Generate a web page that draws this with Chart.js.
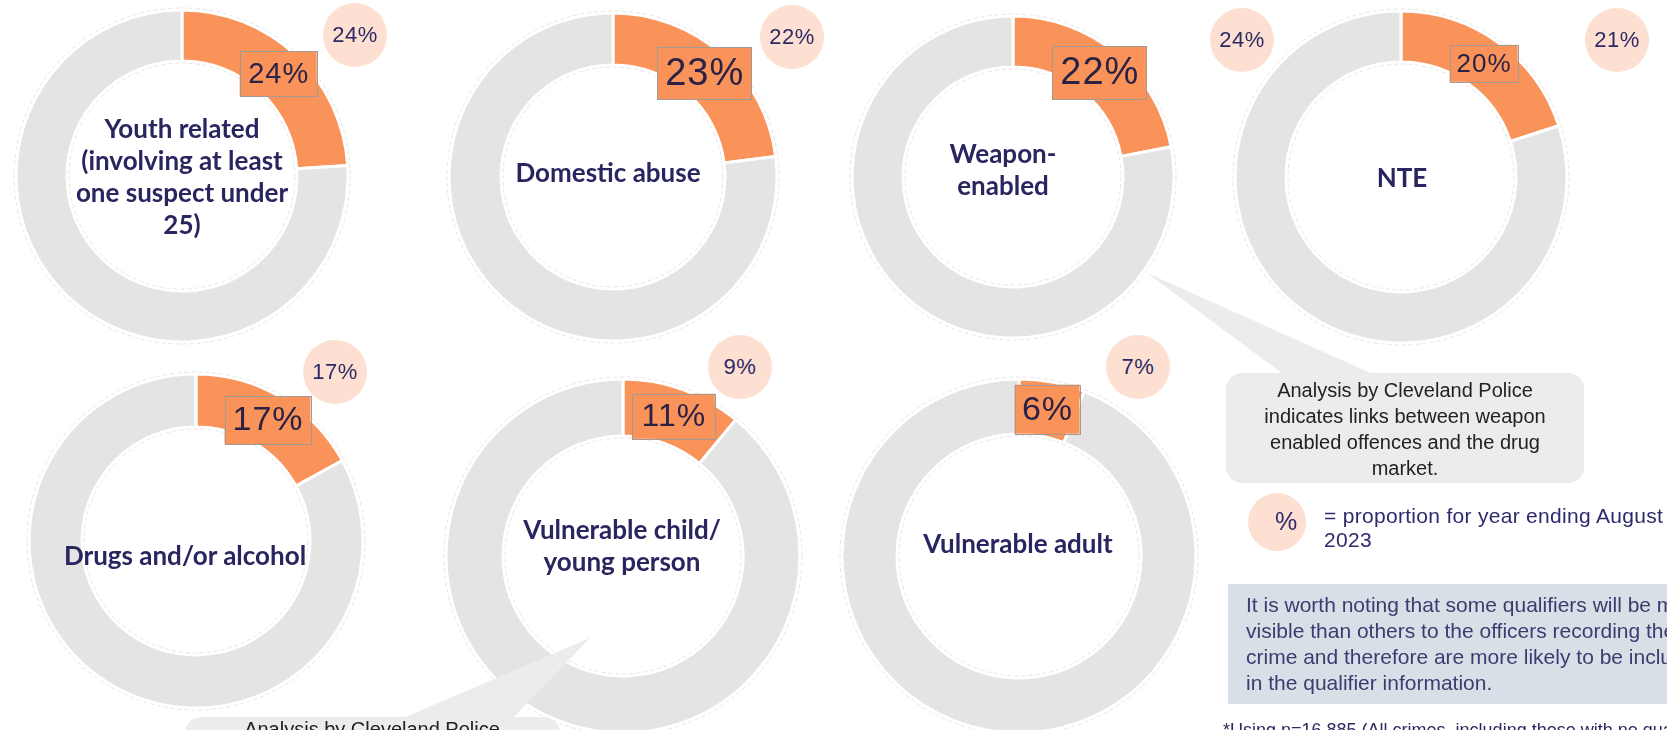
<!DOCTYPE html>
<html>
<head>
<meta charset="utf-8">
<script src="https://cdn.jsdelivr.net/npm/chart.js@4.4.0/dist/chart.umd.min.js"></script>
<style>
  html, body { margin: 0; padding: 0; background: #ffffff; }
  body { position: relative; width: 1667px; height: 730px; overflow: hidden; }
  canvas { position: absolute; }
  .title { position: absolute; transform: translate(-50%, -50%); text-align: center; white-space: nowrap;
           font-family: Lato, "Open Sans", sans-serif; font-weight: 700; font-size: 26px; line-height: 32px; color: #29255f; }
  .prev { position: absolute; width: 64px; height: 64px; margin: -32px 0 0 -32px; border-radius: 50%;
          background: #fde0d2; color: #2c2a64; font: 22px "Liberation Sans", Arial, sans-serif; letter-spacing: 0.5px;
          display: flex; align-items: center; justify-content: center; }
  svg.overlay { position: absolute; left: 0; top: 0; }
  .txt { position: absolute; white-space: nowrap; font-family: "Liberation Sans", Arial, sans-serif; }
  .callout { text-align: center; transform: translateX(-50%); font-size: 20px; line-height: 26px; color: #222222; }
  .legend { font-size: 21px; line-height: 24px; color: #2d2a6e; letter-spacing: 0.3px; }
  .note { font-size: 21px; line-height: 26px; color: #3d3b70; }
  .foot { font-size: 18px; line-height: 22px; color: #2d2a5e; }
</style>
</head>
<body>
<script>
// Share of crimes carrying each qualifier (%), current year and year ending August 2023
const titleLines = [
  ['Youth related', '(involving at least', 'one suspect under', '25)'],
  ['Domestic abuse'],
  ['Weapon-', 'enabled'],
  ['NTE'],
  ['Drugs and/or alcohol'],
  ['Vulnerable child/', 'young person'],
  ['Vulnerable adult']
];
const shareCurrent  = [24, 23, 22, 20, 17, 11, 6];
const sharePrevious = [24, 22, 24, 21, 17, 9, 7];
const sliceNames = ['Qualifier recorded', 'Other crimes'];

// Placement of each ring on the page
const panels = [
  { cx: 182,  cy: 176, R: 166, r: 115, font: 28, box: [77, 45], title: [182, 176],  prev: [355, 35]  },
  { cx: 613,  cy: 177, R: 164, r: 112, font: 36, box: [94, 52], title: [608, 172],  prev: [792, 37]  },
  { cx: 1013, cy: 177, R: 161, r: 110, font: 36, box: [94, 53], title: [1003, 169], prev: [1242, 40] },
  { cx: 1401, cy: 177, R: 166, r: 115, font: 25, box: [68, 37], title: [1402, 177], prev: [1617, 40] },
  { cx: 196,  cy: 541, R: 167, r: 114, font: 32, box: [86, 48], title: [185, 555],  prev: [335, 372] },
  { cx: 623,  cy: 556, R: 177, r: 120, font: 30, box: [83, 45], title: [622, 545],  prev: [740, 367] },
  { cx: 1019, cy: 556, R: 177, r: 122, font: 32, box: [65, 49], title: [1018, 543], prev: [1138, 367] }
];

const ORANGE = '#f9935a';
const GREY = '#e4e4e4';
const SIZE = 400;

// Boxed value label at the centre of the highlighted slice, plus a faint ring outline
const sliceLabel = {
  id: 'sliceLabel',
  afterDatasetsDraw(chart, args, opts) {
    const meta = chart.getDatasetMeta(0);
    const arc = meta.data[0];
    const ctx = chart.ctx;
    ctx.save();
    ctx.strokeStyle = 'rgba(165,165,165,0.28)';
    ctx.lineWidth = 1;
    ctx.setLineDash([4, 3]);
    [arc.outerRadius + 2, arc.innerRadius - 2].forEach(rad => {
      ctx.beginPath();
      ctx.arc(arc.x, arc.y, rad, 0, Math.PI * 2);
      ctx.stroke();
    });
    ctx.setLineDash([]);
    const value = chart.data.datasets[0].data[0];
    const p = arc.tooltipPosition();
    const [w, h] = opts.box;
    ctx.fillStyle = ORANGE;
    ctx.fillRect(p.x - w / 2, p.y - h / 2, w, h);
    ctx.strokeStyle = '#a39a94';
    ctx.lineWidth = 1;
    ctx.strokeRect(Math.round(p.x - w / 2) + 0.5, Math.round(p.y - h / 2) + 0.5, w, h);
    ctx.fillStyle = '#2a2245';
    const size = Math.round(opts.font * 1.05);
    ctx.font = size + 'px "Liberation Sans", Arial, sans-serif';
    const spacing = Math.round(opts.font * 0.04);
    ctx.letterSpacing = spacing + 'px';
    ctx.textAlign = 'center';
    ctx.textBaseline = 'middle';
    ctx.fillText(value + '%', p.x + spacing / 2, p.y + 1);
    ctx.restore();
  }
};

panels.forEach((pn, i) => {
  const cv = document.createElement('canvas');
  cv.width = SIZE; cv.height = SIZE;
  cv.style.left = (pn.cx - SIZE / 2) + 'px';
  cv.style.top = (pn.cy - SIZE / 2) + 'px';
  document.body.appendChild(cv);
  new Chart(cv, {
    type: 'doughnut',
    data: {
      labels: sliceNames,
      datasets: [{
        data: [shareCurrent[i], 100 - shareCurrent[i]],
        backgroundColor: [ORANGE, GREY],
        borderColor: '#ffffff',
        borderWidth: 3,
        hoverOffset: 0
      }]
    },
    options: {
      responsive: false,
      animation: false,
      events: [],
      radius: pn.R,
      cutout: (pn.r / pn.R * 100) + '%',
      layout: { padding: 0 },
      plugins: {
        legend: { display: false },
        tooltip: { enabled: false },
        sliceLabel: { font: pn.font, box: pn.box }
      }
    },
    plugins: [sliceLabel]
  });
});

// Callout bubbles, key and note panel
const NS = 'http://www.w3.org/2000/svg';
const svg = document.createElementNS(NS, 'svg');
svg.setAttribute('class', 'overlay');
svg.setAttribute('width', '1667');
svg.setAttribute('height', '730');
svg.innerHTML =
  '<polygon points="1147,273 1283,374 1373,374" fill="#ececec"/>' +
  '<rect x="1226" y="373" width="358" height="110" rx="16" fill="#ececec"/>' +
  '<polygon points="590,638 403,718 513,718" fill="#ececec"/>' +
  '<rect x="185" y="717" width="375" height="60" rx="16" fill="#ececec"/>' +
  '<circle cx="1277" cy="522" r="29" fill="#fde0d2"/>' +
  '<rect x="1228" y="584" width="520" height="120" fill="#d9dfe6"/>';
document.body.appendChild(svg);

function addText(cls, html, left, top) {
  const d = document.createElement('div');
  d.className = cls;
  d.innerHTML = html;
  d.style.left = left + 'px';
  d.style.top = top + 'px';
  document.body.appendChild(d);
  return d;
}

panels.forEach((pn, i) => {
  addText('title', titleLines[i].join('<br>'), pn.title[0], pn.title[1]);
  addText('prev', sharePrevious[i] + '%', pn.prev[0], pn.prev[1]);
});

addText('txt callout', 'Analysis by Cleveland Police<br>indicates links between weapon<br>enabled offences and the drug<br>market.', 1405, 377);
addText('txt callout', 'Analysis by Cleveland Police', 372, 716);
addText('txt legend', '%', 1275, 509).style.fontSize = '25px';
addText('txt legend', '= proportion for year ending August<br>2023', 1324, 504);
addText('txt note', 'It is worth noting that some qualifiers will be more<br>visible than others to the officers recording the<br>crime and therefore are more likely to be included<br>in the qualifier information.', 1246, 592);
addText('txt foot', '*Using n=16,885 (All crimes, including those with no qualifiers)', 1223, 719);
</script>
</body>
</html>
